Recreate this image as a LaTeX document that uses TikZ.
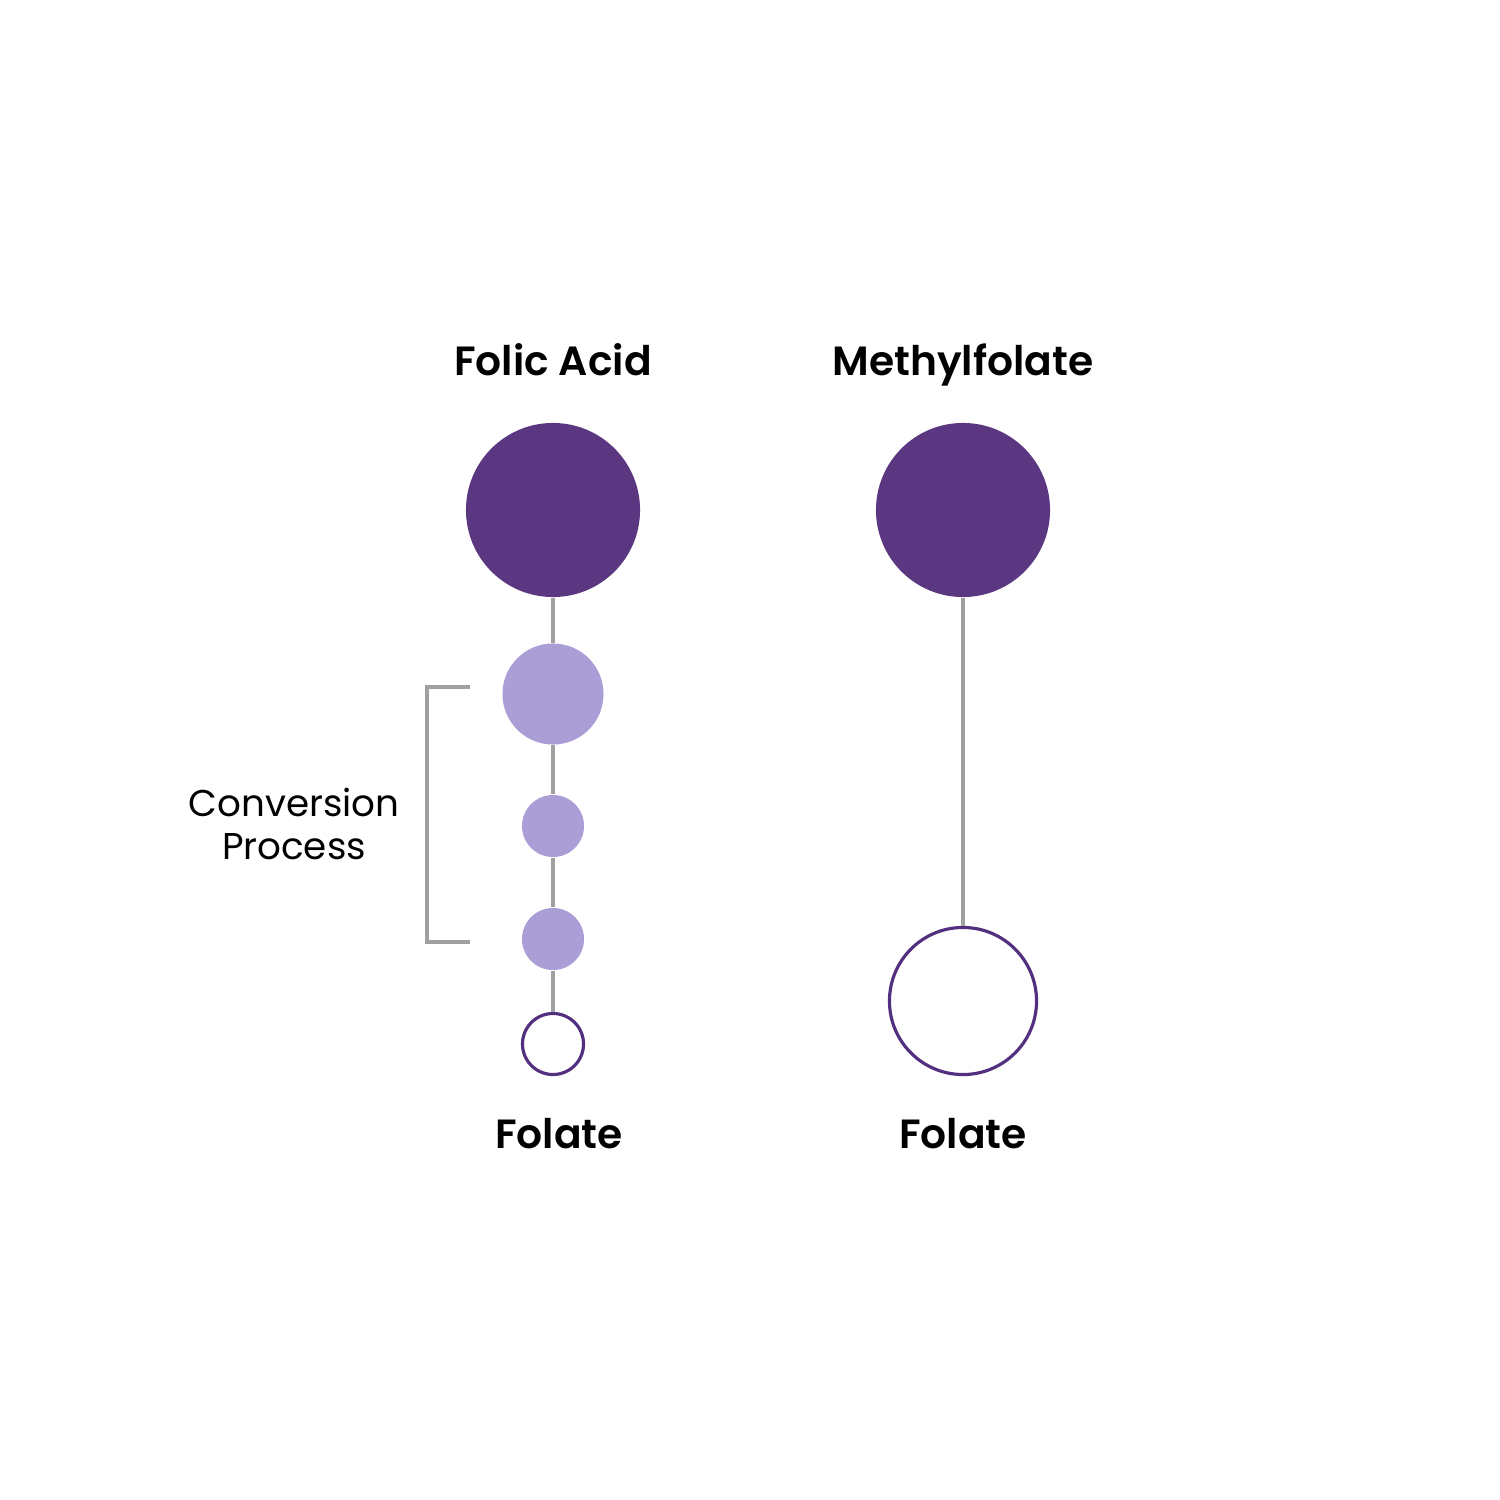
\documentclass[tikz,border=0pt]{standalone}
\usepackage{fontspec}
\setmainfont{Poppins}[BoldFont={Poppins SemiBold}]
\definecolor{darkp}{HTML}{5A3780}
\definecolor{lightp}{HTML}{AB9ED7}
\definecolor{linegray}{HTML}{A0A0A0}
\definecolor{ringp}{HTML}{53307F}
\begin{document}
\begin{tikzpicture}[x=0.01cm,y=-0.01cm,
  dot/.style={circle,inner sep=0pt,draw=none},
  big/.style={dot,fill=darkp,minimum size=17.4mm},
  mid/.style={dot,fill=lightp,minimum size=10.1mm},
  small/.style={dot,fill=lightp,minimum size=6.2mm},
  ring/.style={circle,inner sep=0pt,draw=ringp,line width=0.9pt,fill=white},
  conn/.style={draw=linegray,line width=0.95pt},
  title/.style={font=\bfseries\fontsize{11.6pt}{14pt}\selectfont,anchor=base},
  lbl/.style={font=\fontsize{10.6pt}{12pt}\selectfont,anchor=base}]
\useasboundingbox (0,0) rectangle (1500,1500);
\fill[white] (0,0) rectangle (1500,1500);
% nodes
\node[big] (fa) at (553,510) {};
\node[big] (mf) at (963,510) {};
\node[mid] (c1) at (553,694) {};
\node[small] (c2) at (553,826) {};
\node[small] (c3) at (553,939) {};
\node[ring,minimum size=6.1mm] (fl) at (553,1044) {};
\node[ring,minimum size=14.7mm] (fr) at (963,1001) {};
% connectors
\draw[conn] (fa) -- (c1);
\draw[conn] (c1) -- (c2);
\draw[conn] (c2) -- (c3);
\draw[conn] (c3) -- (fl);
\draw[conn] (mf) -- (fr);
% bracket
\coordinate (bt) at (470,687);
\coordinate (bb) at (470,942);
\draw[conn] (bt) -- (427,687) -- (427,942) -- (bb);
% labels
\node[title] (t1) at (553,375) {Folic Acid};
\node[title] (t2) at (963,375) {Methylfolate};
\node[title] (t3) at (559,1148) {Folate};
\node[title] (t4) at (963,1148) {Folate};
\node[lbl] (cp1) at (294,816) {Conversion};
\node[lbl] (cp2) at (294,859) {Process};
\end{tikzpicture}
\end{document}
